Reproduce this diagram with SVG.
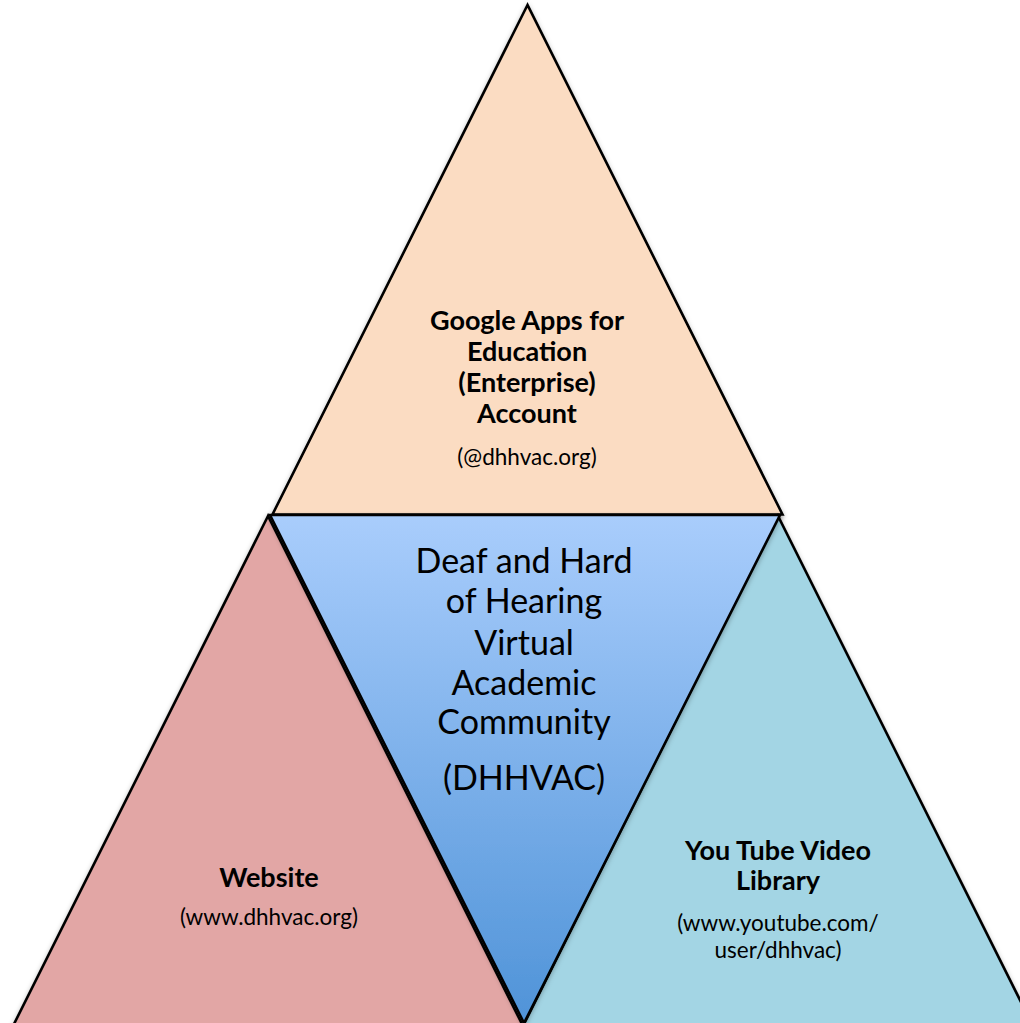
<svg xmlns="http://www.w3.org/2000/svg" width="1020" height="1023" viewBox="0 0 1020 1023">
  <defs>
    <linearGradient id="blueGrad" x1="0" y1="515" x2="0" y2="1023" gradientUnits="userSpaceOnUse">
      <stop offset="0" stop-color="#A9CDFC"/>
      <stop offset="1" stop-color="#4F93D8"/>
    </linearGradient>
    <filter id="shadow" x="-10%" y="-10%" width="120%" height="120%">
      <feDropShadow dx="0" dy="2" stdDeviation="2.5" flood-color="#000" flood-opacity="0.3"/>
    </filter>
  </defs>
  <style>
    .tri { stroke: #000; stroke-width: 2.6; stroke-linejoin: miter; }
    .t { font-family: Lato, "Liberation Sans", sans-serif; fill: #000; text-anchor: middle; }
    .b { font-weight: bold; font-size: 27px; }
    .s { font-size: 22.5px; }
    .c { font-size: 34px; }
  </style>
  <rect width="1020" height="1023" fill="#FFFFFF"/>

  <g id="google-apps">
    <polygon class="tri" points="527.5,5 272.5,514.5 782.5,514.5" fill="#FBDCC2" filter="url(#shadow)"/>
    <text class="t b" x="527" y="330">Google Apps for</text>
    <text class="t b" x="527" y="361">Education</text>
    <text class="t b" x="527" y="392">(Enterprise)</text>
    <text class="t b" x="527" y="423">Account</text>
    <text class="t s" x="527" y="465">(@dhhvac.org)</text>
  </g>

  <g id="website">
    <polygon class="tri" points="268,516 8.5,1035 527.5,1035" fill="#E2A6A5" filter="url(#shadow)"/>
    <text class="t b" x="269" y="887">Website</text>
    <text class="t s" x="269" y="925">(www.dhhvac.org)</text>
  </g>

  <g id="youtube">
    <polygon class="tri" points="778,516 518.5,1035 1037.5,1035" fill="#A3D5E4" filter="url(#shadow)"/>
    <text class="t b" x="778" y="860">You Tube Video</text>
    <text class="t b" x="778" y="890">Library</text>
    <text class="t s" x="778" y="931">(www.youtube.com/</text>
    <text class="t s" x="778" y="958">user/dhhvac)</text>
  </g>

  <g id="dhhvac">
    <polygon class="tri" points="270,515 780,515 524,1023" fill="url(#blueGrad)" filter="url(#shadow)"/>
    <text class="t c" x="524" y="573">Deaf and Hard</text>
    <text class="t c" x="524" y="613">of Hearing</text>
    <text class="t c" x="524" y="655">Virtual</text>
    <text class="t c" x="524" y="695">Academic</text>
    <text class="t c" x="524" y="734">Community</text>
    <text class="t c" x="524" y="790">(DHHVAC)</text>
  </g>
</svg>
